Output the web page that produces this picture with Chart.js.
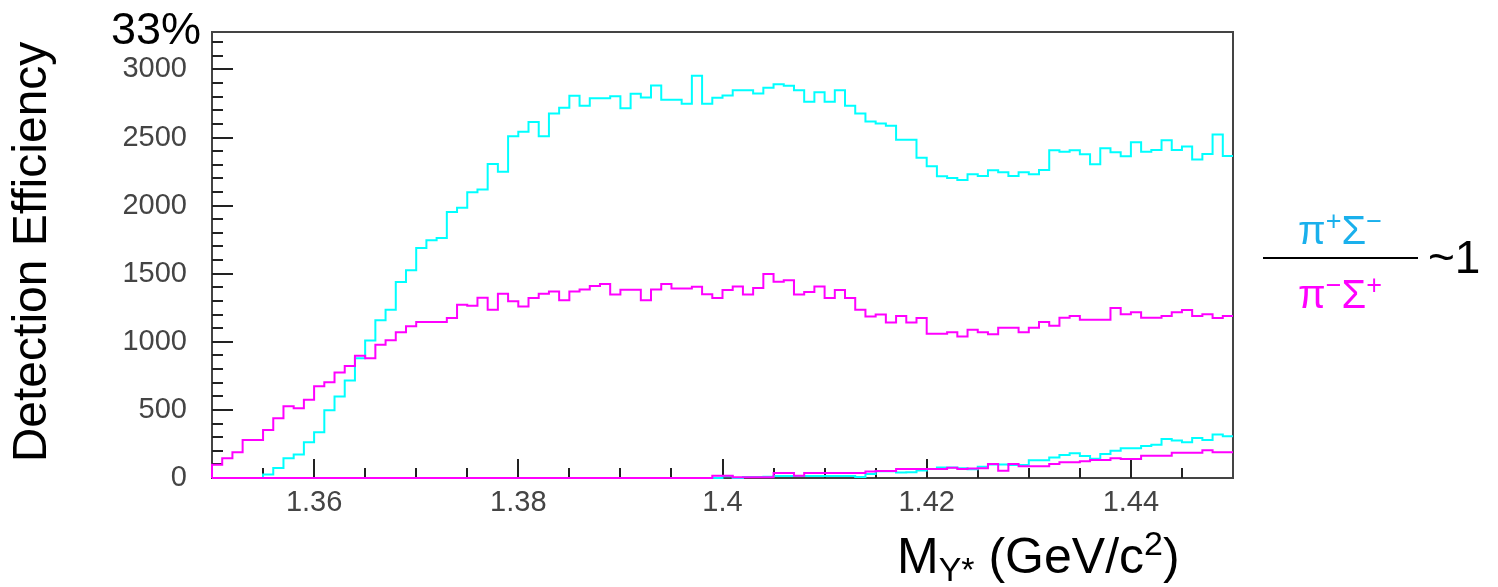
<!DOCTYPE html>
<html>
<head>
<meta charset="utf-8">
<script src="https://cdn.jsdelivr.net/npm/chart.js@4.4.1/dist/chart.umd.min.js"></script>
<style>
  html, body { margin: 0; padding: 0; background: #fff; }
  #wrap { width: 1498px; height: 587px; }
</style>
</head>
<body>
<div id="wrap"><canvas id="effChart" width="1498" height="587"></canvas></div>
<script>
// Histogram binning: 100 bins of 1 MeV from 1.35 to 1.45 GeV/c^2
const binLow = 1.35;
const binWidth = 0.001;

// Tick labels
const xTickLabels = [1.36, 1.38, 1.40, 1.42, 1.44];
const yTickLabels = [0, 500, 1000, 1500, 2000, 2500, 3000];

// pi+ Sigma- (cyan, upper curve)
const piPlusSigmaMinus = [
  0, 0, 0, 0, 0, 25, 74, 145, 172, 262,
  336, 498, 598, 716, 880, 1010, 1159, 1235, 1439, 1525,
  1689, 1745, 1762, 1953, 1985, 2098, 2118, 2306, 2248, 2510,
  2542, 2615, 2510, 2677, 2718, 2806, 2733, 2789, 2789, 2804,
  2716, 2821, 2794, 2882, 2777, 2777, 2748, 2953, 2748, 2792,
  2808, 2848, 2848, 2823, 2865, 2892, 2880, 2848, 2762, 2833,
  2762, 2848, 2733, 2677, 2618, 2603, 2586, 2483, 2483, 2351,
  2289, 2216, 2203, 2189, 2230, 2218, 2260, 2245, 2218, 2245,
  2230, 2262, 2407, 2395, 2407, 2377, 2304, 2422, 2392, 2363,
  2466, 2395, 2409, 2480, 2409, 2434, 2338, 2380, 2522, 2365
];

// pi- Sigma+ (magenta, upper curve)
const piMinusSigmaPlus = [
  98, 145, 189, 279, 279, 353, 439, 527, 512, 574,
  674, 703, 774, 823, 897, 880, 978, 1012, 1071, 1115,
  1145, 1145, 1145, 1174, 1272, 1265, 1324, 1235, 1353, 1297,
  1260, 1321, 1353, 1370, 1306, 1370, 1385, 1409, 1424, 1348,
  1382, 1382, 1306, 1385, 1424, 1392, 1392, 1404, 1350, 1321,
  1380, 1407, 1348, 1395, 1498, 1441, 1453, 1348, 1365, 1407,
  1321, 1380, 1321, 1235, 1186, 1201, 1142, 1189, 1142, 1174,
  1059, 1059, 1071, 1039, 1088, 1071, 1056, 1103, 1103, 1071,
  1103, 1145, 1118, 1176, 1189, 1162, 1162, 1162, 1248, 1203,
  1218, 1176, 1176, 1189, 1218, 1233, 1189, 1203, 1174, 1189
];

// pi+ Sigma- (cyan, lower curve)
const piPlusSigmaMinusLow = [
  0, 0, 0, 0, 0, 0, 0, 0, 0, 0,
  0, 0, 0, 0, 0, 0, 0, 0, 0, 0,
  0, 0, 0, 0, 0, 0, 0, 0, 0, 0,
  0, 0, 0, 0, 0, 0, 0, 0, 0, 0,
  0, 0, 0, 0, 0, 0, 0, 0, 0, 0,
  12, 0, 8, 8, 10, 15, 15, 15, 15, 15,
  15, 15, 15, 8, 30, 50, 50, 40, 42, 55,
  66, 78, 78, 71, 64, 83, 100, 100, 96, 96,
  130, 130, 150, 169, 181, 162, 142, 176, 201, 218,
  218, 235, 245, 287, 275, 263, 294, 279, 319, 306
];

// pi- Sigma+ (magenta, lower curve)
const piMinusSigmaPlusLow = [
  0, 0, 0, 0, 0, 0, 0, 0, 0, 0,
  0, 0, 0, 0, 0, 0, 0, 0, 0, 0,
  0, 0, 0, 0, 0, 0, 0, 0, 0, 0,
  0, 0, 0, 0, 0, 0, 0, 0, 0, 0,
  0, 0, 0, 0, 0, 0, 0, 0, 0, 17,
  17, 5, 5, 5, 5, 37, 37, 17, 37, 37,
  37, 37, 37, 37, 47, 52, 52, 66, 66, 66,
  66, 66, 76, 66, 70, 71, 103, 54, 103, 86,
  86, 86, 103, 115, 115, 123, 132, 132, 145, 140,
  140, 164, 164, 164, 186, 186, 186, 203, 189, 189
];

const FONT = '"Liberation Sans", Arial, Helvetica, sans-serif';
const CYAN = '#00ffff';
const MAGENTA = '#ff00ff';

// Turn bin contents into an outline (step) polyline
function histPoints(values) {
    const pts = [{ x: binLow, y: 0 }];
    values.forEach((v, i) => {
        const lo = binLow + i * binWidth;
        pts.push({ x: lo, y: v }, { x: lo + binWidth, y: v });
    });
    pts.push({ x: binLow + values.length * binWidth, y: 0 });
    return pts;
}

function histDataset(values, color, order) {
    return {
        data: histPoints(values),
        borderColor: color,
        borderWidth: 2,
        pointRadius: 0,
        tension: 0,
        fill: false,
        clip: false,
        order: order
    };
}

// Draw text runs with sub/superscripts
function drawRuns(ctx, runs, x, y) {
    let cx = x;
    runs.forEach(r => {
        ctx.font = r.size + 'px ' + FONT;
        ctx.fillText(r.t, cx, y + (r.dy || 0));
        cx += ctx.measureText(r.t).width;
    });
    return cx - x;
}

function runsWidth(ctx, runs) {
    let w = 0;
    runs.forEach(r => {
        ctx.font = r.size + 'px ' + FONT;
        w += ctx.measureText(r.t).width;
    });
    return w;
}

// Frame and inward ticks (ROOT style)
const framePlugin = {
    id: 'frame',
    beforeDatasetsDraw(chart) {
        const ctx = chart.ctx;
        const xs = chart.scales.x;
        const ys = chart.scales.y;
        const a = chart.chartArea;
        ctx.save();
        ctx.strokeStyle = '#444';
        ctx.lineWidth = 2;
        ctx.strokeRect(a.left, a.top, a.right - a.left, a.bottom - a.top);

        ctx.strokeStyle = '#222';
        ctx.beginPath();
        for (let k = 1; k < 20; k++) {
            const v = binLow + k * 0.005;
            const px = Math.round(xs.getPixelForValue(v));
            const major = k % 4 === 2;
            ctx.moveTo(px, a.bottom);
            ctx.lineTo(px, a.bottom - (major ? 19 : 10));
        }
        for (let v = 100; v < ys.max; v += 100) {
            const py = Math.round(ys.getPixelForValue(v));
            const major = v % 500 === 0;
            ctx.moveTo(a.left, py);
            ctx.lineTo(a.left + (major ? 21 : 11), py);
        }
        ctx.stroke();
        ctx.restore();
    },
    afterDraw(chart) {
        const ctx = chart.ctx;
        ctx.save();
        ctx.fillStyle = '#000';
        ctx.textBaseline = 'alphabetic';
        ctx.textAlign = 'left';

        // top-left label
        ctx.font = '45px ' + FONT;
        ctx.fillText('33%', 111, 44);

        // y title
        ctx.save();
        ctx.translate(46, 252);
        ctx.rotate(-Math.PI / 2);
        ctx.textAlign = 'center';
        ctx.font = '48px ' + FONT;
        ctx.fillText('Detection Efficiency', 0, 0);
        ctx.restore();

        // x title
        drawRuns(ctx, [
            { t: 'M', size: 50 },
            { t: 'Y*', size: 34, dy: 8 },
            { t: ' (GeV/c', size: 50 },
            { t: '2', size: 34, dy: -18 },
            { t: ')', size: 50 }
        ], 897, 573);

        // ratio legend
        const top = [
            { t: 'π', size: 40 }, { t: '+', size: 27, dy: -14 },
            { t: 'Σ', size: 40 }, { t: '−', size: 27, dy: -14 }
        ];
        const bottom = [
            { t: 'π', size: 40 }, { t: '−', size: 27, dy: -14 },
            { t: 'Σ', size: 40 }, { t: '+', size: 27, dy: -14 }
        ];
        const cxLegend = 1340;
        ctx.fillStyle = '#1ab0ec';
        drawRuns(ctx, top, cxLegend - runsWidth(ctx, top) / 2, 244);
        ctx.fillStyle = MAGENTA;
        drawRuns(ctx, bottom, cxLegend - runsWidth(ctx, bottom) / 2, 308);

        ctx.strokeStyle = '#000';
        ctx.lineWidth = 2;
        ctx.beginPath();
        ctx.moveTo(1263, 258);
        ctx.lineTo(1418, 258);
        ctx.stroke();

        ctx.fillStyle = '#000';
        ctx.font = '46px ' + FONT;
        ctx.fillText('~1', 1428, 273);
        ctx.restore();
    }
};

const ctx = document.getElementById('effChart').getContext('2d');

new Chart(ctx, {
    type: 'line',
    data: {
        datasets: [
            histDataset(piMinusSigmaPlusLow, MAGENTA, 0),
            histDataset(piMinusSigmaPlus, MAGENTA, 1),
            histDataset(piPlusSigmaMinusLow, CYAN, 2),
            histDataset(piPlusSigmaMinus, CYAN, 3)
        ]
    },
    options: {
        responsive: false,
        animation: false,
        devicePixelRatio: 1,
        layout: {
            padding: { top: 32, right: 265, bottom: 0, left: 0 }
        },
        plugins: {
            legend: { display: false },
            tooltip: { enabled: false }
        },
        scales: {
            x: {
                type: 'linear',
                min: 1.35,
                max: 1.45,
                grid: { display: false, drawTicks: false },
                border: { display: false },
                afterBuildTicks: scale => {
                    scale.ticks = xTickLabels.map(v => ({ value: v }));
                },
                afterFit: scale => {
                    scale.height = 109;
                    scale.paddingLeft = 0;
                    scale.paddingRight = 0;
                },
                ticks: {
                    autoSkip: false,
                    maxRotation: 0,
                    padding: 8,
                    color: '#444',
                    font: { family: FONT, size: 29 },
                    callback: v => String(parseFloat(v.toFixed(2)))
                }
            },
            y: {
                min: 0,
                max: 3275,
                grid: { display: false, drawTicks: false },
                border: { display: false },
                afterBuildTicks: scale => {
                    scale.ticks = yTickLabels.map(v => ({ value: v }));
                },
                afterFit: scale => {
                    scale.width = 212;
                    scale.paddingTop = 0;
                    scale.paddingBottom = 0;
                },
                ticks: {
                    padding: 25,
                    color: '#444',
                    font: { family: FONT, size: 29 },
                    callback: v => String(v)
                }
            }
        }
    },
    plugins: [framePlugin]
});
</script>
</body>
</html>
